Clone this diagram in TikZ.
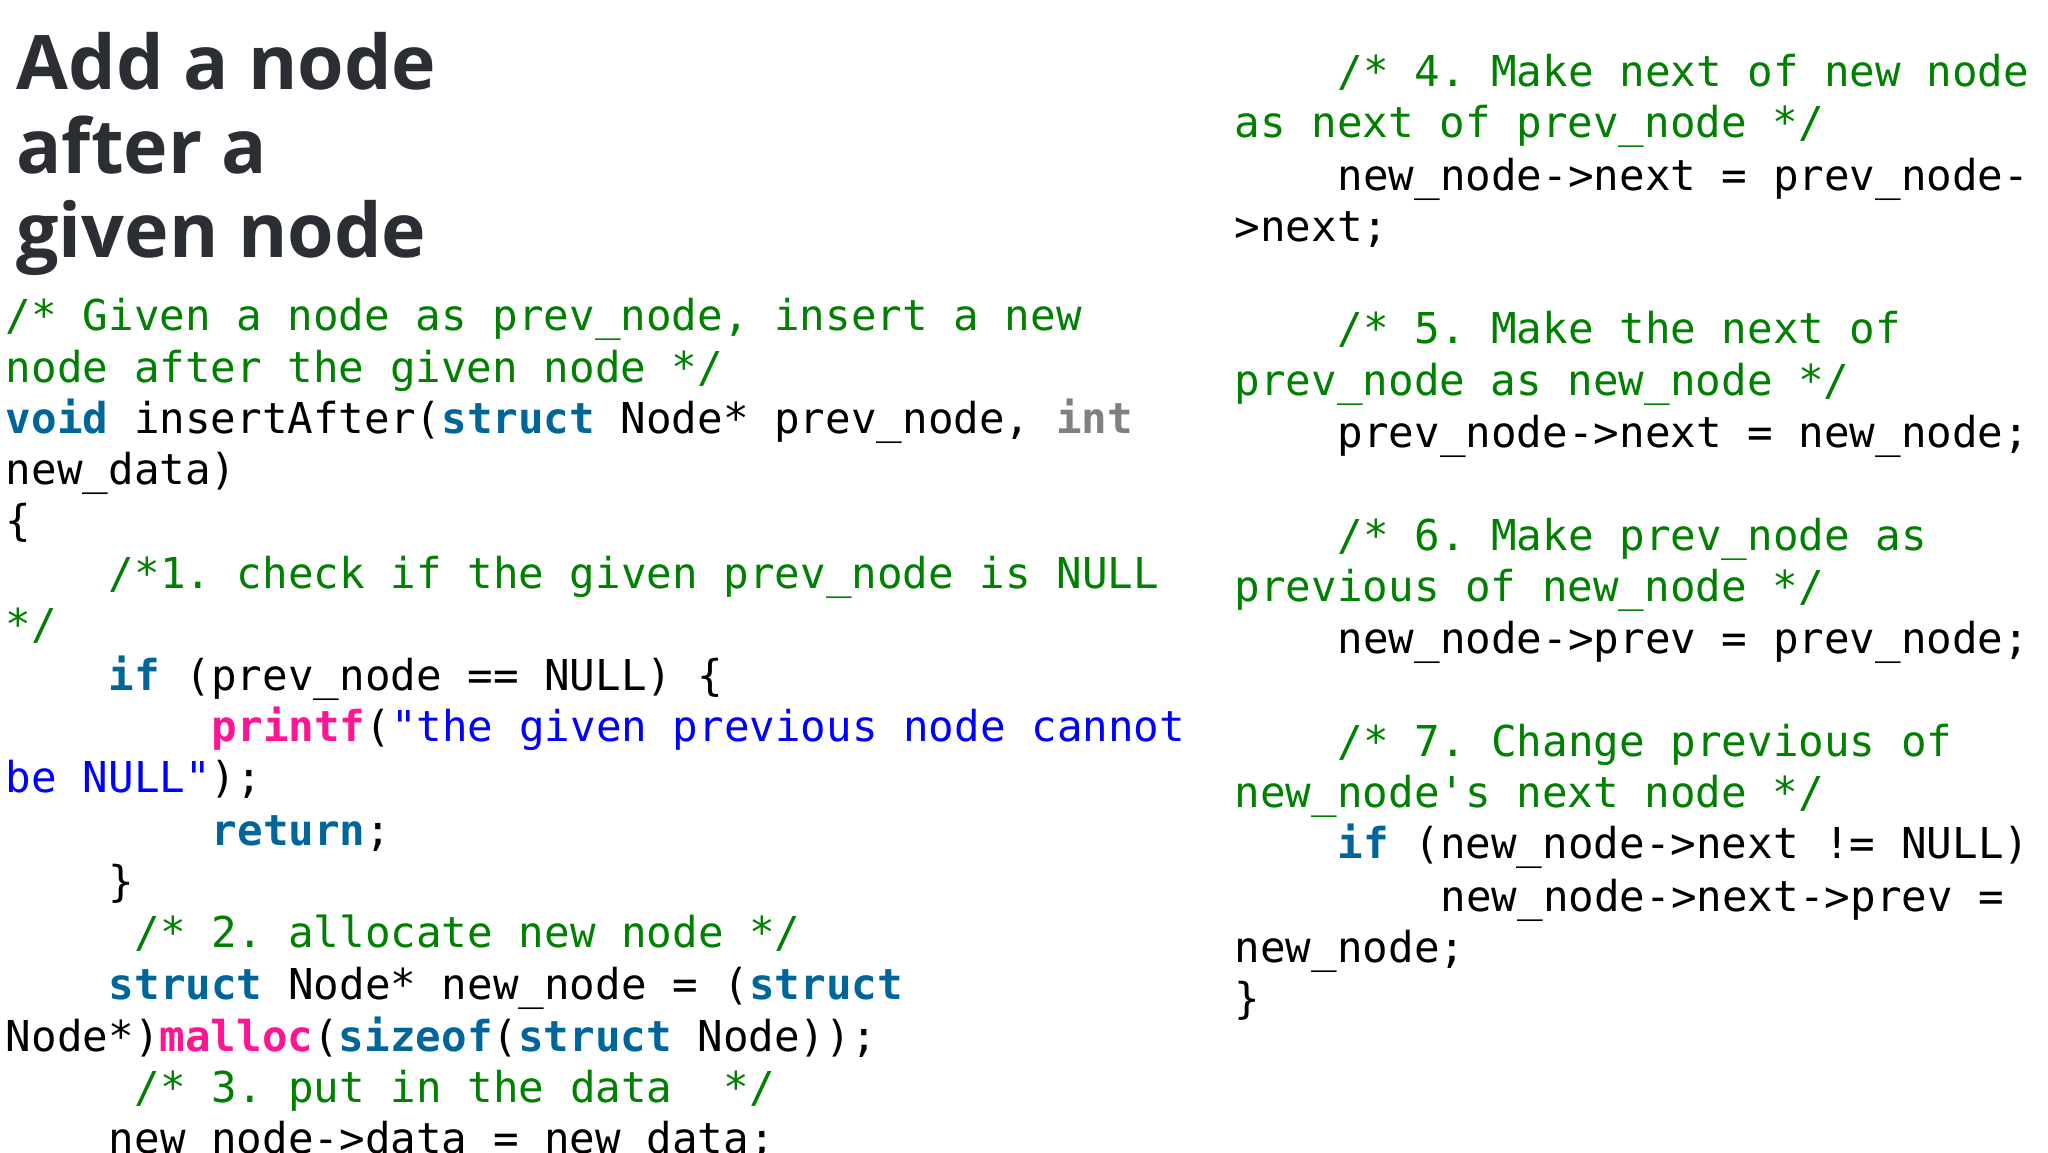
\documentclass[tikz,border=0pt]{standalone}
\usepackage{fontspec}
\setmonofont{DejaVu Sans Mono}
\newfontfamily\titlefont{Open Sans}
\definecolor{cmt}{HTML}{008000}
\definecolor{kwc}{HTML}{006699}
\definecolor{fnc}{HTML}{FF1493}
\definecolor{stc}{HTML}{0000FF}
\definecolor{tyc}{HTML}{808080}
\definecolor{ttl}{HTML}{2B2F33}
\newcommand\cm[1]{\textcolor{cmt}{#1}}
\newcommand\kw[1]{\textcolor{kwc}{\bfseries #1}}
\newcommand\fn[1]{\textcolor{fnc}{\bfseries #1}}
\newcommand\st[1]{\textcolor{stc}{#1}}
\newcommand\ty[1]{\textcolor{tyc}{\bfseries #1}}
\begin{document}
\begin{tikzpicture}[x=0.013128cm,y=-0.013128cm,
  codeline/.style={anchor=base west,inner sep=0,font=\ttfamily\fontsize{12.1}{14}\selectfont},
  ttlline/.style={anchor=base west,inner sep=0,text=ttl,font=\titlefont\bfseries\fontsize{21.4}{22}\selectfont}]
\useasboundingbox (0,0) rectangle (1560,877.5);
\fill[white] (0,0) rectangle (1560,877.5);
\node[ttlline] (t1) at (12,68) {Add a node};
\node[ttlline] (t2) at (12,132) {after a};
\node[ttlline] (t3) at (12,196) {given node};
\def\L{4}\def\R{940}\def\c{19.6}
\node[codeline] (a1) at (\L,252) {\cm{/* Given a node as prev\_node, insert a new}};
\node[codeline] (a2) at (\L,291) {\cm{node after the given node */}};
\node[codeline] (a3) at (\L,330) {\kw{void} insertAfter(\kw{struct} Node* prev\_node, \ty{int}};
\node[codeline] (a4) at (\L,369) {new\_data)};
\node[codeline] (a5) at (\L,408) {\{};
\node[codeline] (a6) at (\L+4*\c,448) {\cm{/*1. check if the given prev\_node is NULL}};
\node[codeline] (a7) at (\L,487) {\cm{*/}};
\node[codeline] (a8) at (\L+4*\c,526) {\kw{if} (prev\_node == NULL) \{};
\node[codeline] (a9) at (\L+8*\c,565) {\fn{printf}(\st{"the given previous node cannot}};
\node[codeline] (a10) at (\L,604) {\st{be NULL"});};
\node[codeline] (a11) at (\L+8*\c,644) {\kw{return};};
\node[codeline] (a12) at (\L+4*\c,683) {\}};
\node[codeline] (a13) at (\L+5*\c,722) {\cm{/* 2. allocate new node */}};
\node[codeline] (a14) at (\L+4*\c,761) {\kw{struct} Node* new\_node = (\kw{struct}};
\node[codeline] (a15) at (\L,801) {Node*)\fn{malloc}(\kw{sizeof}(\kw{struct} Node));};
\node[codeline] (a16) at (\L+5*\c,840) {\cm{/* 3. put in the data\ \ */}};
\node[codeline] (a17) at (\L+4*\c,879) {new\_node->data = new\_data;};
\node[codeline] (b1) at (\R+4*\c,66) {\cm{/* 4. Make next of new node}};
\node[codeline] (b2) at (\R,105) {\cm{as next of prev\_node */}};
\node[codeline] (b3) at (\R+4*\c,145) {new\_node->next = prev\_node-};
\node[codeline] (b4) at (\R,184) {>next;};
\node[codeline] (b5) at (\R+4*\c,262) {\cm{/* 5. Make the next of}};
\node[codeline] (b6) at (\R,301) {\cm{prev\_node as new\_node */}};
\node[codeline] (b7) at (\R+4*\c,341) {prev\_node->next = new\_node;};
\node[codeline] (b8) at (\R+4*\c,419) {\cm{/* 6. Make prev\_node as}};
\node[codeline] (b9) at (\R,458) {\cm{previous of new\_node */}};
\node[codeline] (b10) at (\R+4*\c,498) {new\_node->prev = prev\_node;};
\node[codeline] (b11) at (\R+4*\c,576) {\cm{/* 7. Change previous of}};
\node[codeline] (b12) at (\R,615) {\cm{new\_node's next node */}};
\node[codeline] (b13) at (\R+4*\c,654) {\kw{if} (new\_node->next != NULL)};
\node[codeline] (b14) at (\R+8*\c,694) {new\_node->next->prev =};
\node[codeline] (b15) at (\R,733) {new\_node;};
\node[codeline] (b16) at (\R,772) {\}};
\end{tikzpicture}
\end{document}
